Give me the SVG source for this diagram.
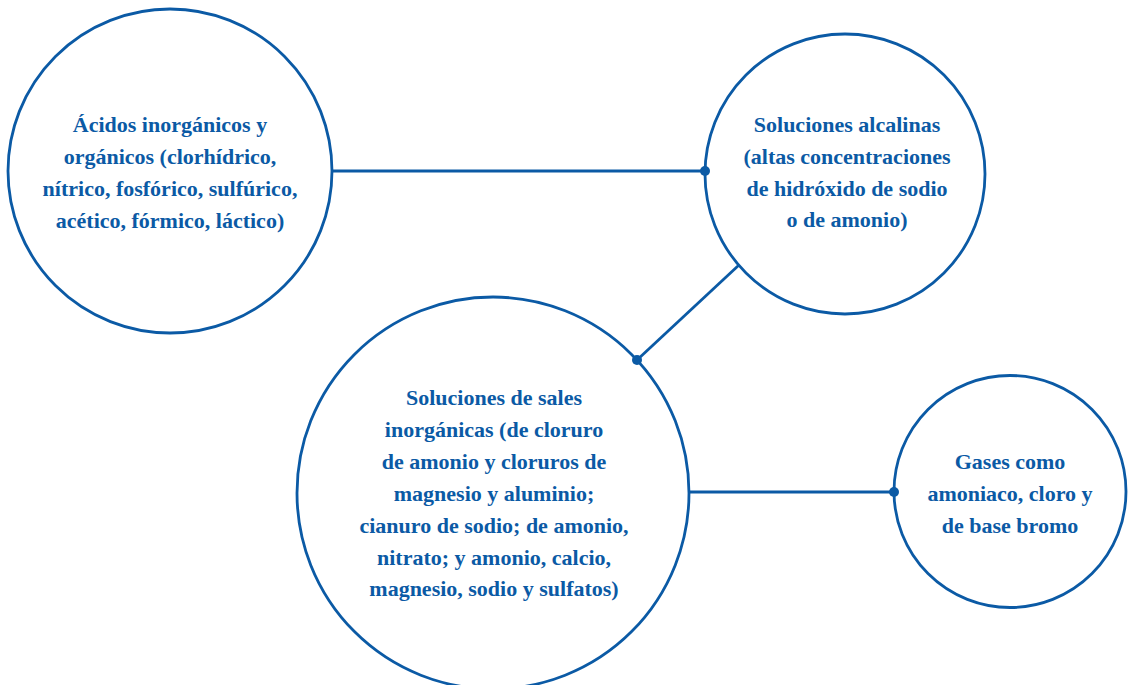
<svg xmlns="http://www.w3.org/2000/svg" width="1132" height="685" viewBox="0 0 1132 685">
<style>
.node{fill:#ffffff;stroke:#0b5aa5;stroke-width:2.8}
.lbl{font-family:"Liberation Serif","DejaVu Serif",serif;font-weight:bold;font-size:22px;fill:#0b5aa5;text-anchor:middle}
.conn{stroke:#0b5aa5;stroke-width:2.8;fill:none}
.dot{fill:#0b5aa5}
</style>
<rect width="1132" height="685" fill="#ffffff"/>
<g id="connectors">
<line class="conn" x1="332" y1="171" x2="705" y2="171"/>
<line class="conn" x1="739" y1="265" x2="637" y2="360"/>
<line class="conn" x1="689" y1="492" x2="894" y2="492"/>
</g>
<g id="acidos">
<circle class="node" cx="170" cy="171" r="162"/>
<text class="lbl"><tspan x="170" y="131.5">Ácidos inorgánicos y</tspan><tspan x="170" y="163.5">orgánicos (clorhídrico,</tspan><tspan x="170" y="195.5">nítrico, fosfórico, sulfúrico,</tspan><tspan x="170" y="227.5">acético, fórmico, láctico)</tspan></text>
</g>
<g id="alcalinas">
<circle class="node" cx="845" cy="174" r="140"/>
<text class="lbl"><tspan x="847" y="131.5">Soluciones alcalinas</tspan><tspan x="847" y="163.5">(altas concentraciones</tspan><tspan x="847" y="195.5">de hidróxido de sodio</tspan><tspan x="847" y="227">o de amonio)</tspan></text>
</g>
<g id="sales">
<circle class="node" cx="493" cy="493" r="196"/>
<text class="lbl"><tspan x="494" y="405">Soluciones de sales</tspan><tspan x="494" y="437">inorgánicas (de cloruro</tspan><tspan x="494" y="469">de amonio y cloruros de</tspan><tspan x="494" y="501">magnesio y aluminio;</tspan><tspan x="494" y="533">cianuro de sodio; de amonio,</tspan><tspan x="494" y="564.5">nitrato; y amonio, calcio,</tspan><tspan x="494" y="596">magnesio, sodio y sulfatos)</tspan></text>
</g>
<g id="gases">
<circle class="node" cx="1010" cy="491.5" r="116"/>
<text class="lbl"><tspan x="1010" y="469">Gases como</tspan><tspan x="1010" y="501">amoniaco, cloro y</tspan><tspan x="1010" y="533">de base bromo</tspan></text>
</g>
<g id="dots">
<circle class="dot" cx="705" cy="171" r="5"/>
<circle class="dot" cx="637" cy="360" r="5"/>
<circle class="dot" cx="894" cy="492" r="5"/>
</g>
</svg>
